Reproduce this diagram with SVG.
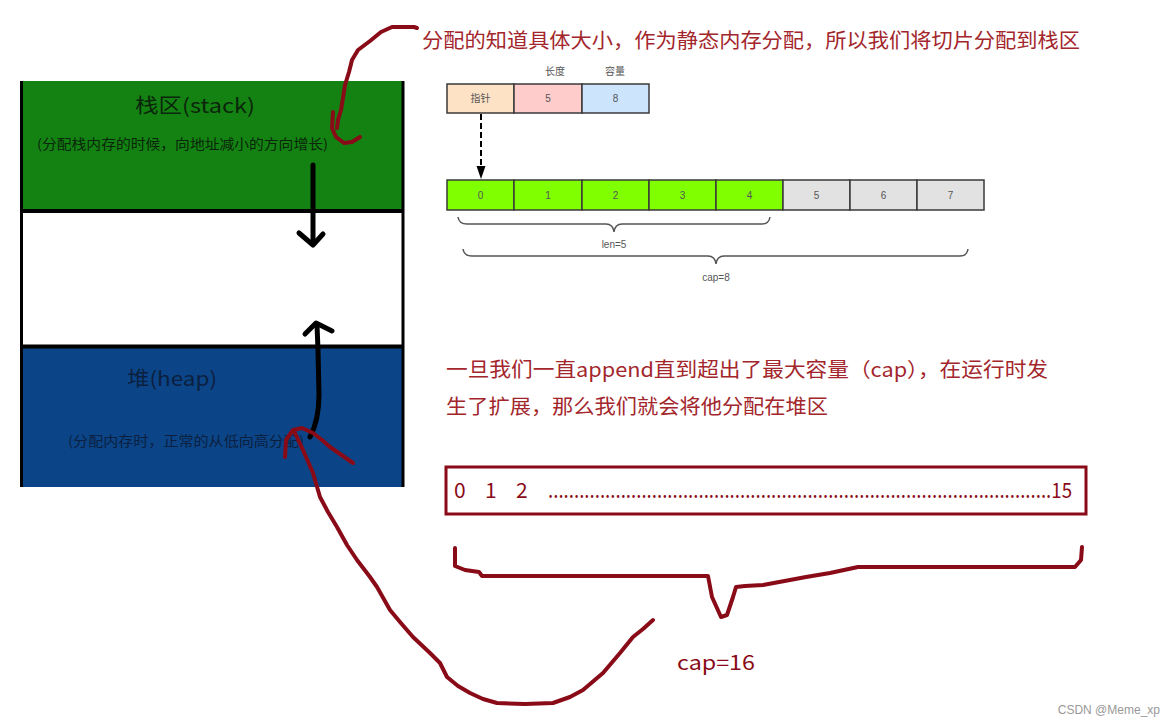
<svg xmlns="http://www.w3.org/2000/svg" width="1176" height="727" viewBox="0 0 1176 727">
<defs>
<style>
.cjk{font-family:"Noto Sans CJK SC","Noto Sans",sans-serif}
.lat{font-family:"Liberation Sans","Noto Sans CJK SC",sans-serif}
.redtxt{fill:#a3262c;font-size:20px}
.cell{stroke:#3a3a3a;stroke-width:1.5}
.clbl{font-family:"Liberation Sans",sans-serif;font-size:10px;fill:#555;text-anchor:middle}
.hlbl{font-family:"Noto Sans CJK SC",sans-serif;font-size:10px;fill:#555;text-anchor:middle}
.red{fill:none;stroke:#8a0b18;stroke-width:4;stroke-linejoin:round;stroke-linecap:round}
.blk{fill:none;stroke:#000;stroke-width:5;stroke-linejoin:round;stroke-linecap:round}
.brace{fill:none;stroke:#555;stroke-width:1.5}
</style>
</defs>
<rect width="1176" height="727" fill="#fff"/>

<g id="stack">
<rect x="21" y="81" width="382" height="130" fill="#138212"/>
<text class="cjk" x="135" y="113" font-size="20" fill="#0b260b" textLength="120" lengthAdjust="spacingAndGlyphs">栈区(stack)</text>
<text class="cjk" x="37" y="149" font-size="13.5" fill="#0b260b" textLength="291" lengthAdjust="spacingAndGlyphs">(分配栈内存的时候，向地址减小的方向增长)</text>
</g>
<g id="free">
<rect x="21" y="211" width="382" height="136" fill="#fff"/>
</g>
<g id="heap">
<rect x="21" y="347" width="382" height="140" fill="#0b4587"/>
<text class="cjk" x="127" y="386" font-size="20" fill="#0b1f40" textLength="90" lengthAdjust="spacingAndGlyphs">堆(heap)</text>
<text class="cjk" x="68" y="446" font-size="13.5" fill="#0b1f40" textLength="236" lengthAdjust="spacingAndGlyphs">(分配内存时，正常的从低向高分配)</text>
</g>
<g id="memory-borders">
<line x1="21.5" y1="81" x2="21.5" y2="487" stroke="#000" stroke-width="3"/>
<line x1="403" y1="81" x2="403" y2="487" stroke="#000" stroke-width="3"/>
<line x1="21" y1="211" x2="404" y2="211" stroke="#000" stroke-width="4"/>
<line x1="21" y1="346.5" x2="404" y2="346.5" stroke="#000" stroke-width="4"/>
</g>

<g id="title-note">
<text class="cjk redtxt" x="422" y="48" textLength="658" lengthAdjust="spacingAndGlyphs">分配的知道具体大小，作为静态内存分配，所以我们将切片分配到栈区</text>
</g>

<g id="slice-header">
<text class="hlbl" x="555" y="75">长度</text>
<text class="hlbl" x="615" y="75">容量</text>
<rect class="cell" x="447" y="84" width="67" height="29" fill="#fde2c6"/>
<rect class="cell" x="514" y="84" width="68" height="29" fill="#ffcccc"/>
<rect class="cell" x="582" y="84" width="67" height="29" fill="#cce4fc"/>
<text class="hlbl" x="480.5" y="102">指针</text>
<text class="clbl" x="548" y="102">5</text>
<text class="clbl" x="615.5" y="102">8</text>
</g>

<g id="slice-array">
<rect class="cell" x="447" y="180" width="67" height="30" fill="#80ff00"/>
<rect class="cell" x="514" y="180" width="68" height="30" fill="#80ff00"/>
<rect class="cell" x="582" y="180" width="67" height="30" fill="#80ff00"/>
<rect class="cell" x="649" y="180" width="67" height="30" fill="#80ff00"/>
<rect class="cell" x="716" y="180" width="67" height="30" fill="#80ff00"/>
<rect class="cell" x="783" y="180" width="67" height="30" fill="#e2e2e2"/>
<rect class="cell" x="850" y="180" width="67" height="30" fill="#e2e2e2"/>
<rect class="cell" x="917" y="180" width="67" height="30" fill="#e2e2e2"/>
<text class="clbl" x="480.5" y="199">0</text>
<text class="clbl" x="548" y="199">1</text>
<text class="clbl" x="615.5" y="199">2</text>
<text class="clbl" x="682.5" y="199">3</text>
<text class="clbl" x="749.5" y="199">4</text>
<text class="clbl" x="816.5" y="199">5</text>
<text class="clbl" x="883.5" y="199">6</text>
<text class="clbl" x="950.5" y="199">7</text>
<path class="brace" d="M458,217 Q459,224 467,224 L606,224 Q613,224 614,232 Q615,224 622,224 L762,224 Q769,224 770,217"/>
<text class="clbl" x="614" y="248" fill="#333">len=5</text>
<path class="brace" d="M463,249 Q464,256 472,256 L708,256 Q715,256 716,264 Q717,256 724,256 L960,256 Q967,256 968,249"/>
<text class="clbl" x="716" y="281" fill="#333">cap=8</text>
</g>

<g id="append-note">
<text class="cjk redtxt" x="446" y="377" textLength="602" lengthAdjust="spacingAndGlyphs">一旦我们一直append直到超出了最大容量（cap），在运行时发</text>
<text class="cjk redtxt" x="446" y="414" textLength="382" lengthAdjust="spacingAndGlyphs">生了扩展，那么我们就会将他分配在堆区</text>
</g>

<g id="heap-array">
<rect x="446" y="467" width="640" height="47" fill="none" stroke="#8a0b18" stroke-width="3"/>
<text class="cjk" x="454" y="498" font-size="21" fill="#8a0b18">0</text>
<text class="cjk" x="485" y="498" font-size="21" fill="#8a0b18">1</text>
<text class="cjk" x="516" y="498" font-size="21" fill="#8a0b18">2</text>
<text class="cjk" x="548" y="498" font-size="21" fill="#8a0b18" textLength="524" lengthAdjust="spacingAndGlyphs">.................................................................................................15</text>
</g>

<g id="cap16">
<text class="cjk" x="677" y="670" font-size="20" fill="#8a0b18" textLength="78" lengthAdjust="spacingAndGlyphs">cap=16</text>
</g>

<g id="watermark">
<text class="lat" x="1160" y="714" font-size="12" fill="#999" text-anchor="end">CSDN @Meme_xp</text>
</g>

<g id="connectors">
<line x1="481" y1="114" x2="481" y2="167" stroke="#000" stroke-width="2" stroke-dasharray="6,3"/>
<polygon points="476.5,166 485.5,166 481,179" fill="#000"/>
<path class="blk" d="M313,165 L313,244"/>
<path class="blk" d="M299,233 L313,245 L323,234"/>
<path class="blk" d="M310,437 Q319,420 319,395 L318,350 L317,325"/>
<path class="blk" d="M305,334 L316,323 L332,331"/>
<path class="red" d="M417,28 L414,27 L392,27 L381,32 L370,41 L358,50 L352,60 L349,72 L345,85 L343,98 L341,110 L338,120 L337,128"/>
<path class="red" d="M333,112 L332,128 L336,137 L344,143 L352,142 L360,137"/>
<path class="red" d="M285,457 L286,440 L293,430 L302,428 L313,433 L322,440 L330,447 L353,463"/>
<path class="red" d="M294,431 L303,450 L313,473 L320,497 L328,512 L337,527 L347,545 L357,560 L370,577 L377,587 L390,610 L400,622 L413,637 L430,653 L440,663 L447,677 L458,686 L470,693 L483,699 L497,703 L525,704 L553,703 L570,697 L583,690 L603,673 L620,653 L633,637 L643,629 L653,620"/>
<path class="red" d="M455,548 L455,566 L465,570 L479,572 L482,576 L686,576 L708,576 L712,597 L721,617 L727,615 L733,597 L736,587 L745,586 L763,585 L790,580 L806,577 L830,573 L858,567 L1075,567 L1081,560 L1082,547"/>
</g>
</svg>
